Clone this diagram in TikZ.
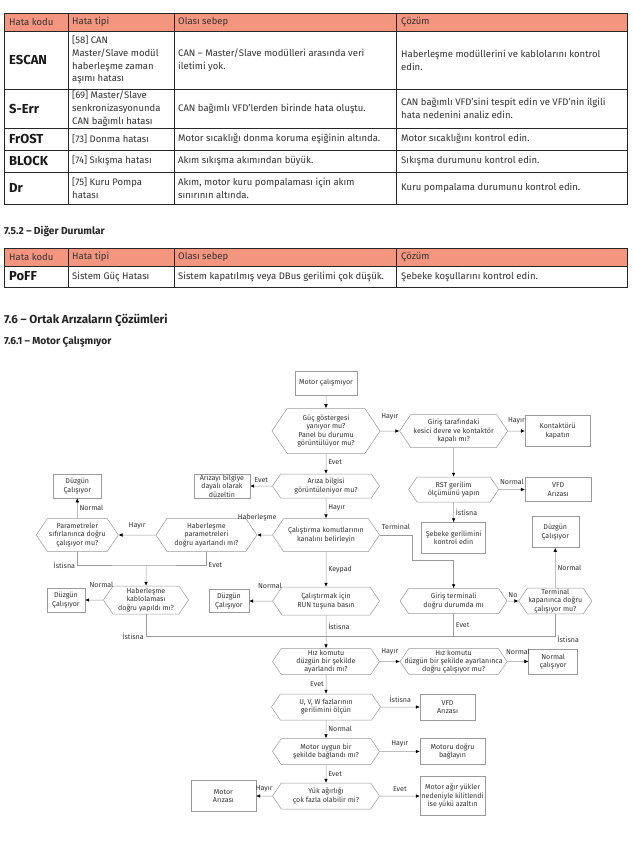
\documentclass[tikz,border=0pt]{standalone}
\usepackage{fontspec}
\setmainfont{Fira Sans}
\usepackage{tikz}
\usetikzlibrary{positioning, shapes.symbols, arrows.meta}
\definecolor{hdr}{HTML}{F4957F}
\definecolor{txt}{HTML}{333333}
\definecolor{ln}{HTML}{9A9A9A}

\tikzset{
  base/.style={font=\fontsize{7.1}{8.3}\selectfont, text=txt, align=center, draw=ln, line width=0.5pt, inner sep=1pt},
  box/.style={base, rectangle},
  hexa/.style={base, signal, signal to=west and east, signal pointer angle=112},
  arr/.style={draw=ln, line width=0.5pt, -{Latex[length=4pt, width=3.6pt, color=black]}},
  link/.style={draw=ln, line width=0.5pt},
  lbl/.style={font=\fontsize{7.1}{8}\selectfont, text=txt, inner sep=2pt},
  cell/.style={anchor=west, align=left, inner sep=0pt, text=txt, font=\fontsize{9.5}{12.8}\selectfont},
  code/.style={anchor=west, inner sep=0pt, text=black!90, font=\fontsize{13}{14}\selectfont\bfseries},
  heading/.style={anchor=west, inner sep=0pt, text=black!85},
  grid/.style={draw=black!85, line width=0.6pt}
}

\begin{document}
\begin{tikzpicture}[x=1pt, y=-1pt]
  \useasboundingbox[fill=white] (0,0) rectangle (632,842);

  % table of error codes
  \fill[hdr] (4,13) rectangle (627,31);
  \draw[grid] (4,13) rectangle (627,204);
  \foreach \yy in {31,89,128,150,172} \draw[grid] (4,\yy) -- (627,\yy);
  \foreach \xx in {68,174,396} \draw[grid] (\xx,13) -- (\xx,204);

  \node[cell] (h1) at (9,22)   {Hata kodu};
  \node[cell] (h2) at (72,22)  {Hata tipi};
  \node[cell] (h3) at (178,22) {Olası sebep};
  \node[cell] (h4) at (401,22) {Çözüm};

  \node[code] (escan) at (9,60) {ESCAN};
  \node[cell] (escanA) at (72,60)  {[58] CAN\\Master/Slave modül\\haberleşme zaman\\aşımı hatası};
  \node[cell] (escanB) at (178,60) {CAN – Master/Slave modülleri arasında veri\\iletimi yok.};
  \node[cell] (escanC) at (401,60) {Haberleşme modüllerini ve kablolarını kontrol\\edin.};

  \node[code] (serr) at (9,108.5) {S-Err};
  \node[cell] (serrA) at (72,108.5)  {[69] Master/Slave\\senkronizasyonunda\\CAN bağımlı hatası};
  \node[cell] (serrB) at (178,108.5) {CAN bağımlı VFD’lerden birinde hata oluştu.};
  \node[cell] (serrC) at (401,108.5) {CAN bağımlı VFD’sini tespit edin ve VFD’nin ilgili\\hata nedenini analiz edin.};

  \node[code] (frost) at (9,139) {FrOST};
  \node[cell] (frostA) at (72,139)  {[73] Donma hatası};
  \node[cell] (frostB) at (178,139) {Motor sıcaklığı donma koruma eşiğinin altında.};
  \node[cell] (frostC) at (401,139) {Motor sıcaklığını kontrol edin.};

  \node[code] (block) at (9,161) {BLOCK};
  \node[cell] (blockA) at (72,161)  {[74] Sıkışma hatası};
  \node[cell] (blockB) at (178,161) {Akım sıkışma akımından büyük.};
  \node[cell] (blockC) at (401,161) {Sıkışma durumunu kontrol edin.};

  \node[code] (dr) at (9,188) {Dr};
  \node[cell] (drA) at (72,188)  {[75] Kuru Pompa\\hatası};
  \node[cell] (drB) at (178,188) {Akım, motor kuru pompalaması için akım\\sınırının altında.};
  \node[cell] (drC) at (401,188) {Kuru pompalama durumunu kontrol edin.};

  % other cases
  \node[heading, font=\fontsize{10.2}{11}\selectfont\bfseries] (sec752) at (4,231) {7.5.2 – Diğer Durumlar};
  \fill[hdr] (4,248) rectangle (627,266);
  \draw[grid] (4,248) rectangle (627,287);
  \draw[grid] (4,266) -- (627,266);
  \foreach \xx in {68,174,396} \draw[grid] (\xx,248) -- (\xx,287);
  \node[cell] (g1) at (9,257)   {Hata kodu};
  \node[cell] (g2) at (72,257)  {Hata tipi};
  \node[cell] (g3) at (178,257) {Olası sebep};
  \node[cell] (g4) at (401,257) {Çözüm};
  \node[code] (poff) at (9,276.5) {PoFF};
  \node[cell] (poffA) at (72,276.5)  {Sistem Güç Hatası};
  \node[cell] (poffB) at (178,276.5) {Sistem kapatılmış veya DBus gerilimi çok düşük.};
  \node[cell] (poffC) at (401,276.5) {Şebeke koşullarını kontrol edin.};

  \node[heading, font=\fontsize{11.6}{13}\selectfont\bfseries] (sec76) at (4,320) {7.6 – Ortak Arızaların Çözümleri};
  \node[heading, font=\fontsize{10.2}{11}\selectfont\bfseries] (sec761) at (4,342) {7.6.1 – Motor Çalışmıyor};

  % flowchart
  \node[box, minimum width=62pt, minimum height=24pt] (start) at (326,383) {Motor çalışmıyor};
  \node[hexa, minimum width=108pt, minimum height=45pt, below=13pt of start] (guc) {Güç göstergesi\\yanıyor mu?\\Panel bu durumu\\görüntülüyor mu?};
  \node[hexa, minimum width=108pt, minimum height=33pt, right=19pt of guc] (gi) {Giriş tarafındaki\\kesici devre ve kontaktör\\kapalı mı?};
  \node[box, minimum width=65pt, minimum height=31pt, right=17pt of gi] (kont) {Kontaktörü\\kapatın};
  \node[hexa, minimum width=90pt, minimum height=25pt, below=29pt of gi] (rst) {RST gerilim\\ölçümünü yapın};
  \node[box, minimum width=66pt, minimum height=24pt, right=26pt of rst] (vfda) {VFD\\Arızası};
  \node[box, minimum width=64pt, minimum height=31pt, below=20pt of rst] (seb) {Şebeke gerilimini\\kontrol edin};
  \node[hexa, minimum width=107pt, minimum height=24pt, below=20pt of guc] (ar) {Arıza bilgisi\\görüntüleniyor mu?};
  \node[box, minimum width=56pt, minimum height=24pt, left=22pt of ar] (duz) {Arızayı bilgiye\\dayalı olarak\\düzeltin};
  \node[hexa, minimum width=107pt, minimum height=33pt, below=20pt of ar] (cal) {Çalıştırma komutlarının\\kanalını belirleyin};
  \node[hexa, minimum width=101pt, minimum height=33pt, left=15pt of cal] (hp) {Haberleşme\\parametreleri\\doğru ayarlandı mı?};
  \node[hexa, minimum width=82pt, minimum height=33pt, left=37pt of hp] (ps) {Parametreler\\sıfırlanınca doğru\\çalışıyor mu?};
  \node[box, minimum width=48pt, minimum height=24pt, above=20pt of ps] (okA) {Düzgün\\Çalışıyor};
  \node[hexa, minimum width=85pt, minimum height=28pt] (hk) at (146,600) {Haberleşme\\kablolaması\\doğru yapıldı mı?};
  \node[box, minimum width=38pt, minimum height=24pt, left=18pt of hk] (okB) {Düzgün\\Çalışıyor};
  \node[hexa, minimum width=107pt, minimum height=28pt, below=35pt of cal] (rn) {Çalıştırmak için\\RUN tuşuna basın};
  \node[box, minimum width=40pt, minimum height=23pt, left=23pt of rn] (okC) {Düzgün\\Çalışıyor};
  \node[hexa, minimum width=107pt, minimum height=25pt, right=20pt of rn] (gt) {Giriş terminali\\doğru durumda mı};
  \node[hexa, minimum width=71pt, minimum height=25pt, right=11pt of gt] (tk) {Terminal\\kapanınca doğru\\çalışıyor mu?};
  \node[box, minimum width=47pt, minimum height=31pt, above=40pt of tk] (okD) {Düzgün\\Çalışıyor};
  \node[hexa, minimum width=107pt, minimum height=26pt, below=33pt of rn] (hz) {Hız komutu\\düzgün bir şekilde\\ayarlandı mı?};
  \node[hexa, minimum width=107pt, minimum height=25pt, inner xsep=-7pt, right=20pt of hz] (hz2) {Hız komutu\\düzgün bir şekilde ayarlanınca\\doğru çalışıyor mu?};
  \node[box, minimum width=49pt, minimum height=25pt, right=21pt of hz2] (nc) {Normal\\çalışıyor};
  \node[hexa, minimum width=109pt, minimum height=26pt, below=19pt of hz] (uvw) {U, V, W fazlarının\\gerilimini ölçün};
  \node[box, minimum width=55pt, minimum height=26pt, right=39pt of uvw] (vfdb) {VFD\\Arızası};
  \node[hexa, minimum width=107pt, minimum height=26pt, below=18pt of uvw] (mu) {Motor uygun bir\\şekilde bağlandı mı?};
  \node[box, minimum width=65pt, minimum height=26pt, right=40pt of mu] (mdb) {Motoru doğru\\bağlayın};
  \node[hexa, minimum width=107pt, minimum height=26pt, below=18pt of mu] (yuk) {Yük ağırlığı\\çok fazla olabilir mi?};
  \node[box, minimum width=65pt, minimum height=31pt, left=16pt of yuk] (mar) {Motor\\Arızası};
  \node[box, minimum width=65pt, minimum height=39pt, right=40pt of yuk] (agr) {Motor ağır yükler\\nedeniyle kilitlendi\\ise yükü azaltın};

  \coordinate (jA) at (146,565);
  \coordinate (jB) at (326,636);
  \coordinate (tA) at (412,560);

  \draw[arr] (start) -- (guc);
  \draw[arr] (guc) -- node[lbl, above=9pt] {Hayır} (gi);
  \draw[arr] (gi) -- node[lbl, above=5pt] {Hayır} (kont);
  \draw[arr] (gi) -- (rst);
  \draw[arr] (rst) -- node[lbl, above=3pt] {Normal} (vfda);
  \draw[arr] (rst) -- node[lbl, right] {İstisna} (seb);
  \draw[arr] (guc) -- node[lbl, right, pos=.4] {Evet} (ar);
  \draw[arr] (ar) -- node[lbl, above=1pt] {Evet} (duz);
  \draw[arr] (ar) -- node[lbl, right] {Hayır} (cal);
  \draw[arr] (cal) -- node[lbl, above=12pt, pos=1] {Haberleşme} (hp);
  \draw[arr] (hp) -- node[lbl, above=4pt] {Hayır} (ps);
  \draw[arr] (ps) -- node[lbl, right] {Normal} (okA);
  \draw[link] (ps.south) |- node[lbl, pos=.5, left] {İstisna} (jA) -| node[lbl, pos=.5, right] {Evet} (hp.south);
  \draw[arr] (jA) -- (hk);
  \draw[arr] (hk) -- node[lbl, above=10pt, pos=.1] {Normal} (okB);
  \draw[arr] (cal) -- node[lbl, right] {Keypad} (rn);
  \draw[arr] (rn) -- node[lbl, above=10pt, pos=.1] {Normal} (okC);
  \draw[arr] (cal.east) -| node[lbl, pos=.25, above=3pt] {Terminal} (tA) -| (gt.north);
  \draw[arr] (gt) -- node[lbl, above=1pt] {No} (tk);
  \draw[arr] (tk) -- node[lbl, right] {Normal} (okD);
  \draw[link] (hk.south) |- node[lbl, pos=.5, left] {İstisna} (jB);
  \draw[link] (gt.south) -- node[lbl, right] {Evet} (gt.south |- jB);
  \draw[link] (tk.south) |- node[lbl, pos=.5, right, yshift=-3pt] {İstisna} (jB);
  \draw[arr] (rn) -- node[lbl, right, pos=.35] {İstisna} (hz);
  \draw[arr] (hz) -- node[lbl, above=4pt] {Hayır} (hz2);
  \draw[arr] (hz2) -- node[lbl, above=5pt] {Normal} (nc);
  \draw[arr] (hz) -- node[lbl, left] {Evet} (uvw);
  \draw[arr] (uvw) -- node[lbl, above=2pt] {İstisna} (vfdb);
  \draw[arr] (uvw) -- node[lbl, right] {Normal} (mu);
  \draw[arr] (mu) -- node[lbl, above=2pt] {Hayır} (mdb);
  \draw[arr] (mu) -- node[lbl, right] {Evet} (yuk);
  \draw[arr] (yuk) -- node[lbl, above=2pt] {Hayır} (mar);
  \draw[arr] (yuk) -- node[lbl, above=2pt] {Evet} (agr);
\end{tikzpicture}
\end{document}
